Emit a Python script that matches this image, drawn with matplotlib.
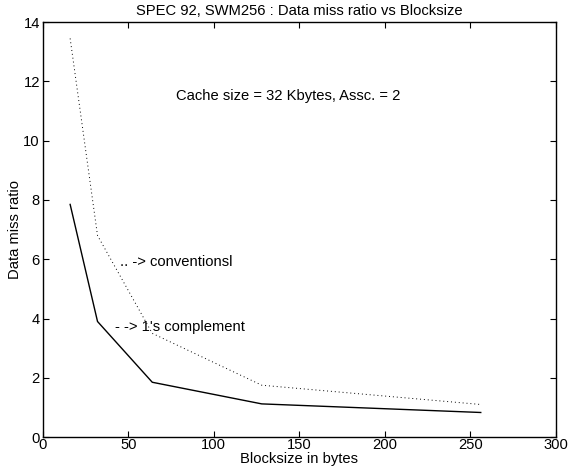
import matplotlib
matplotlib.use("Agg")
import matplotlib.pyplot as plt

plt.rcParams["font.family"] = ["Liberation Sans", "DejaVu Sans"]

blocksize = [16, 32, 64, 128, 256]
ones_complement = [7.85, 3.9, 1.85, 1.12, 0.83]
conventional = [13.45, 6.8, 3.5, 1.75, 1.1]

FS = 10.6
fig = plt.figure(figsize=(5.78, 4.71), dpi=100)
ax = fig.add_axes([0.074, 0.072, 0.888, 0.881])
ax.plot(blocksize, ones_complement, "k-", lw=1)
ax.plot(blocksize, conventional, color="k", ls=(0, (1, 3)), lw=0.7)

ax.set_xlim(0, 300); ax.set_ylim(0, 14)
ax.set_xticks(range(0, 301, 50)); ax.set_yticks(range(0, 15, 2))
ax.tick_params(direction="in", top=True, right=True, labelsize=FS, length=4)
ax.tick_params(axis="x", pad=1)
ax.tick_params(axis="y", pad=2)
for s in ax.spines.values(): s.set_linewidth(1)

ax.set_title("SPEC 92, SWM256 : Data miss ratio vs Blocksize", fontsize=FS, pad=5)
ax.set_xlabel("Blocksize in bytes", fontsize=FS, labelpad=0)
ax.set_ylabel("Data miss ratio", fontsize=FS, labelpad=1)
ax.text(78, 11.5, "Cache size = 32 Kbytes, Assc. = 2", fontsize=FS, va="center")
ax.text(45, 5.9, ".. -> conventionsl", fontsize=FS, va="center")
ax.text(42.5, 3.7, "- -> 1's complement", fontsize=FS, va="center")

fig.savefig("out.png", dpi=100)
